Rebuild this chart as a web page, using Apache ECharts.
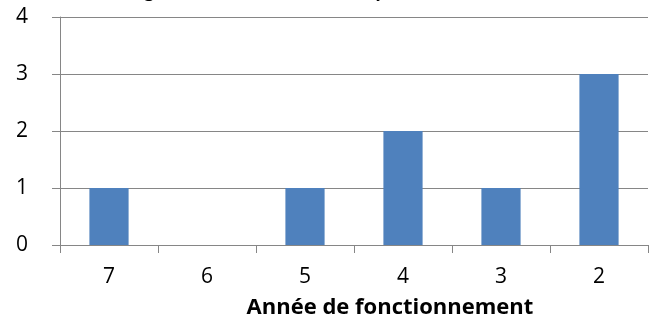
<!DOCTYPE html>
<html>
<head>
<meta charset="utf-8">
<script src="https://cdn.jsdelivr.net/npm/echarts@6/dist/echarts.min.js"></script>
<style>
  html, body { margin: 0; padding: 0; background: #fff; }
  #chart { width: 650px; height: 324px; }
</style>
</head>
<body>
<div id="chart"></div>
<script>
// Operating year categories and the count for each
const years = ['7', '6', '5', '4', '3', '2'];
const counts = [1, 0, 1, 2, 1, 3];
const yTicks = [0, 1, 2, 3, 4];

const chartTitle = 'Âge des installations du système';
const xAxisName = 'Année de fonctionnement';

const axisGray = '#868686';
const labelFont = '"Open Sans", Lato, sans-serif';
const titleFont = 'Lato, "Open Sans", sans-serif';

const chart = echarts.init(document.getElementById('chart'), null, { renderer: 'canvas' });
chart.setOption({
  animation: false,
  title: {
    text: chartTitle,
    left: 123,
    top: -26,
    textStyle: { fontFamily: titleFont, fontWeight: 'bold', fontSize: 22, color: '#000' }
  },
  grid: { left: 60, right: 2, top: 17, bottom: 76, containLabel: false },
  xAxis: {
    type: 'category',
    data: years,
    name: xAxisName,
    nameLocation: 'middle',
    nameGap: 52,
    nameTextStyle: { fontFamily: labelFont, fontWeight: 'bold', fontSize: 22, color: '#000', padding: [0, 0, 0, 72] },
    axisLine: { lineStyle: { color: axisGray, width: 1 } },
    axisTick: { show: true, alignWithLabel: false, length: 8, lineStyle: { color: axisGray } },
    axisLabel: { fontFamily: labelFont, fontSize: 21, color: '#000', margin: 22 }
  },
  yAxis: {
    type: 'value',
    min: yTicks[0],
    max: yTicks[yTicks.length - 1],
    interval: 1,
    axisLine: { show: true, lineStyle: { color: axisGray, width: 1 } },
    axisTick: { show: true, length: 8, inside: false, lineStyle: { color: axisGray } },
    splitLine: { show: true, lineStyle: { color: axisGray, width: 1 } },
    axisLabel: { fontFamily: labelFont, fontSize: 21, color: '#000', margin: 32 }
  },
  series: [{
    type: 'bar',
    data: counts,
    barWidth: '40%',
    itemStyle: { color: '#4F81BD' }
  }]
});
</script>
</body>
</html>
